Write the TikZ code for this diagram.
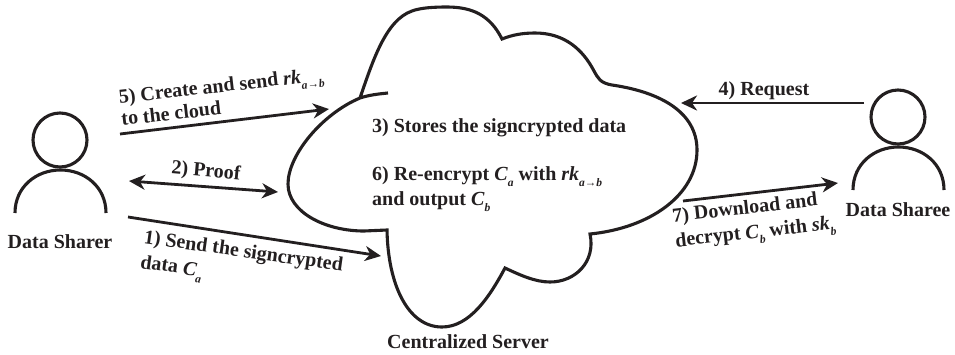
\documentclass[tikz,border=0pt]{standalone}
\usepackage{fontspec}
\setmainfont{Liberation Serif}
\usetikzlibrary{arrows.meta}
\definecolor{ink}{HTML}{231F20}
\tikzset{
  outline/.style={line width=3.1pt,color=ink},
  flow/.style={line width=2.8pt,color=ink,-{Stealth[length=16pt,width=15pt,inset=5pt]}},
  biflow/.style={line width=2.8pt,color=ink,{Stealth[length=16pt,width=15pt,inset=5pt]}-{Stealth[length=16pt,width=15pt,inset=5pt]}},
  lab/.style={font=\fontsize{20}{25}\selectfont\bfseries,text=ink,align=left,inner sep=0pt},
  tightlab/.style={lab,font=\fontsize{20}{22}\selectfont\bfseries},
  head/.style={circle,draw=ink,line width=3.1pt,minimum size=54pt,inner sep=0pt},
}
\newcommand{\lowsub}[1]{\raisebox{-0.32em}{\fontsize{11.5}{11.5}\selectfont\bfseries\itshape #1}}
\newcommand{\kname}{\textit{rk}\lowsub{a→b}}
\begin{document}
\begin{tikzpicture}[x=1pt,y=-1pt]
\useasboundingbox (0,0) rectangle (955,354);
% cloud
\draw[outline,line join=miter]
  (388,93) .. controls (378,94) and (369,95) .. (360,98)
  .. controls (322,114) and (288,155) .. (288,184)
  .. controls (288,212) and (325,231) .. (364,231)
  -- (387,230)
  .. controls (388,285) and (408,327) .. (442,327)
  .. controls (470,327) and (490,296) .. (505,268)
  .. controls (520,275) and (535,282) .. (550,282)
  .. controls (575,282) and (596,262) .. (590,234)
  .. controls (650,228) and (697,195) .. (697,150)
  .. controls (697,112) and (660,92) .. (612,85)
  .. controls (600,83) and (598,78) .. (594,71)
  .. controls (583,50) and (565,33) .. (535,33)
  .. controls (522,33) and (512,35) .. (502,39)
  .. controls (490,15) and (472,7) .. (447,7)
  .. controls (432,7) and (420,8) .. (412,11)
  .. controls (386,20) and (373,60) .. (360,98);
% people
\node[head] (headA) at (60,140) {};
\coordinate (bodyAL) at (15,213);
\coordinate (bodyAR) at (106,213);
\draw[outline] (bodyAL) .. controls (15,187) and (36,170) .. (60.5,170) .. controls (85,170) and (106,187) .. (bodyAR);
\node[head] (headB) at (898,117) {};
\coordinate (bodyBL) at (853,190);
\coordinate (bodyBR) at (944,190);
\draw[outline] (bodyBL) .. controls (853,164) and (874,147) .. (898.5,147) .. controls (923,147) and (944,164) .. (bodyBR);
% arrows
\coordinate (s5) at (120,134); \coordinate (t5) at (329,109);
\coordinate (s2) at (129,181); \coordinate (t2) at (278,192);
\coordinate (s1) at (128,217); \coordinate (t1) at (381,256);
\coordinate (s4) at (864,103); \coordinate (t4) at (681,103);
\coordinate (s7) at (683,201); \coordinate (t7) at (838,183);
\draw[flow] (s5) -- (t5);
\draw[biflow] (s2) -- (t2);
\draw[flow] (s1) -- (t1);
\draw[flow] (s4) -- (t4);
\draw[flow] (s7) -- (t7);
% labels
\node[tightlab,anchor=west,rotate=6.5] (l5) at (120,108) {5) Create and send \kname\\to the cloud};
\node[lab,rotate=-5] (l2) at (206,172) {2) Proof};
\node[lab,anchor=west,rotate=-8] (l1) at (142,252) {1) Send the signcrypted\\data \textit{C}\lowsub{a}};
\node[lab] (l4) at (764,91) {4) Request};
\node[lab,anchor=west,rotate=6.5] (l7) at (674,231) {7) Download and\\decrypt \textit{C}\lowsub{b} with \textit{sk}\lowsub{b}};
\node[lab,anchor=west] (l3) at (372,128) {3) Stores the signcrypted data};
\node[lab,anchor=west] (l6) at (372,189) {6) Re-encrypt \textit{C}\lowsub{a} with \kname\\and output \textit{C}\lowsub{b}};
\node[lab] (nA) at (60,242) {Data Sharer};
\node[lab] (nB) at (898,210) {Data Sharee};
\node[lab] (nC) at (468,342) {Centralized Server};
\end{tikzpicture}
\end{document}
